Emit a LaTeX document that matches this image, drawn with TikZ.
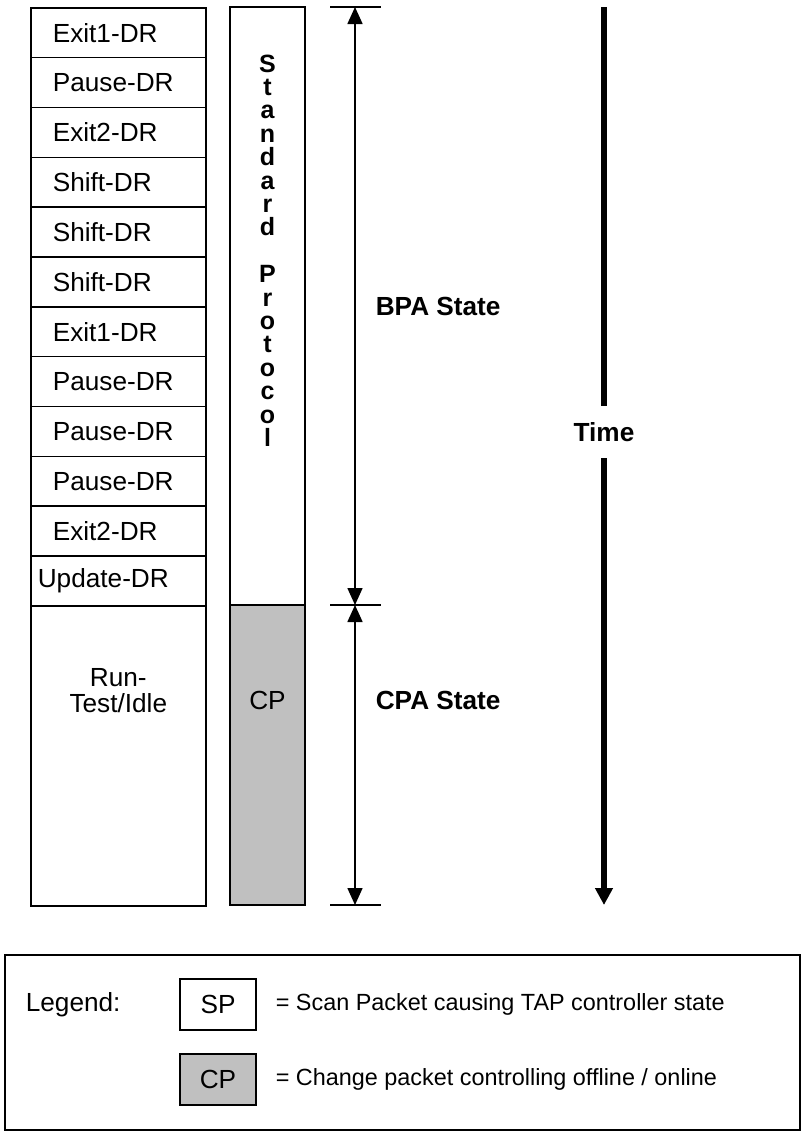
\documentclass[tikz,border=0pt]{standalone}
\usepackage{fontspec}
\setmainfont{Liberation Sans}
\usepackage{tikz}
\usetikzlibrary{matrix,arrows.meta}
\definecolor{cpgray}{HTML}{C0C0C0}
\newcommand{\diagsize}{\fontsize{13.1}{15.7}\selectfont}
\newcommand{\keysize}{\fontsize{11.7}{14}\selectfont}

\begin{document}
\begin{tikzpicture}[x=0.5pt,y=-0.5pt,line width=0.8pt,
	tapstate/.style={draw,outer sep=0pt,text width=65.5pt,inner xsep=11pt,minimum height=24.92pt,align=left,font=\diagsize},
	packet/.style={draw,outer sep=0pt,minimum width=37.5pt},
	boldlbl/.style={font=\diagsize\bfseries,inner sep=0pt},
	keylbl/.style={font=\keysize,inner sep=0pt,anchor=west},
	dimarrow/.style={{Triangle[length=8.5pt,width=7.5pt]}-{Triangle[length=8.5pt,width=7.5pt]}},
	timeline/.style={line width=3pt}]
	\useasboundingbox (0,0) rectangle (804,1132);
	% TAP controller states, one packet per row
	\matrix (col) [matrix of nodes,nodes in empty cells,row sep=-\pgflinewidth,
		nodes={tapstate},inner sep=0pt,outer sep=0pt,anchor=north west] at (30,7)
	{
		Exit1-DR \\ Pause-DR \\ Exit2-DR \\ Shift-DR \\ Shift-DR \\ Shift-DR \\
		Exit1-DR \\ Pause-DR \\ Pause-DR \\ Pause-DR \\ Exit2-DR \\
		|[inner xsep=3.5pt,text width=80.5pt]| Update-DR \\
		|[minimum height=150pt]| \\
	};
	\node[align=center,font=\fontsize{13.1}{13}\selectfont] (idle) at ([yshift=32.5pt]col-13-1.center) {Run-\\Test/Idle};

	% protocol column
	\node[packet,minimum height=299pt,anchor=north] (sp) at (267.5,7) {};
	\node[packet,minimum height=150pt,fill=cpgray,anchor=north] (cp) at (267.5,605) {};
	\node[align=center,font=\bfseries\fontsize{12.5}{11.7}\selectfont] (sptext) at ([yshift=27.75pt]sp.center)
		{S\\t\\a\\n\\d\\a\\r\\d\\[11.7pt]P\\r\\o\\t\\o\\c\\o\\l};
	\node[font=\diagsize] (cptext) at ([yshift=27.5pt]cp.center) {CP};

	% state spans
	\coordinate (top) at (355,7);
	\coordinate (mid) at (355,605);
	\coordinate (bot) at (355,905);
	\foreach \c in {top,mid,bot}
		\draw ([xshift=-12.5pt]\c) -- ([xshift=13pt]\c);
	\draw[dimarrow] (top) -- (mid);
	\draw[dimarrow] (mid) -- (bot);
	\node[boldlbl,anchor=west] (bpa) at (375,306) {BPA State};
	\node[boldlbl,anchor=west] (cpa) at (375,700) {CPA State};

	% time axis
	\coordinate (tstart) at (604,7);
	\coordinate (tend) at (604,905);
	\node[boldlbl,inner ysep=8pt] (time) at (604,432) {Time};
	\draw[timeline] (tstart) -- (time);
	\draw[timeline,-{Triangle[length=8.5pt,width=8.5pt]}] (time) -- (tend);

	% legend
	\node[draw,line width=1pt,minimum width=397.5pt,minimum height=87.5pt] (legend) at (402.5,1042.5) {};
	\node[keylbl,font=\diagsize] (lgd) at (25,1004.5) {Legend:};
	\node[packet,minimum width=38pt,minimum height=25.5pt,font=\diagsize] (spkey) at (218,1004.5) {SP};
	\node[packet,minimum width=38pt,minimum height=25.5pt,font=\diagsize,fill=cpgray] (cpkey) at (218,1079.5) {CP};
	\node[keylbl] (spdesc) at (275,1004.5) {= Scan Packet causing TAP controller state};
	\node[keylbl] (cpdesc) at (275,1079.5) {= Change packet controlling offline / online};
\end{tikzpicture}
\end{document}
